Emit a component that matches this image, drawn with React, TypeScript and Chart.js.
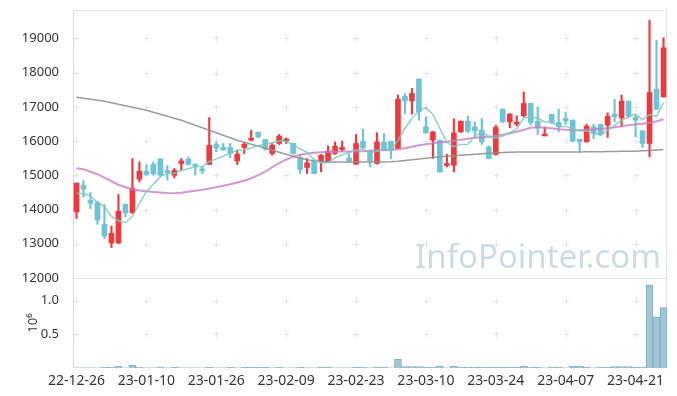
import React, { useEffect, useRef } from 'react';
import { Chart, registerables } from 'chart.js';

Chart.register(...registerables);

const dates = [
  '22-12-26', '22-12-27', '22-12-28', '22-12-29', '23-01-02', '23-01-03', '23-01-04', '23-01-05', '23-01-06', '23-01-09',
  '23-01-10', '23-01-11', '23-01-12', '23-01-13', '23-01-16', '23-01-17', '23-01-18', '23-01-19', '23-01-20', '23-01-25',
  '23-01-26', '23-01-27', '23-01-30', '23-01-31', '23-02-01', '23-02-02', '23-02-03', '23-02-06', '23-02-07', '23-02-08',
  '23-02-09', '23-02-10', '23-02-13', '23-02-14', '23-02-15', '23-02-16', '23-02-17', '23-02-20', '23-02-21', '23-02-22',
  '23-02-23', '23-02-24', '23-02-27', '23-02-28', '23-03-02', '23-03-03', '23-03-06', '23-03-07', '23-03-08', '23-03-09',
  '23-03-10', '23-03-13', '23-03-14', '23-03-15', '23-03-16', '23-03-17', '23-03-20', '23-03-21', '23-03-22', '23-03-23',
  '23-03-24', '23-03-27', '23-03-28', '23-03-29', '23-03-30', '23-03-31', '23-04-03', '23-04-04', '23-04-05', '23-04-06',
  '23-04-07', '23-04-10', '23-04-11', '23-04-12', '23-04-13', '23-04-14', '23-04-17', '23-04-18', '23-04-19', '23-04-20',
  '23-04-21', '23-04-24', '23-04-25', '23-04-26', '23-04-27',
];

const opens = [
  13930, 14710, 14270, 14205, 13570, 13023, 13023, 14155, 13912, 14886,
  15120, 15316, 15480, 15110, 15003, 15345, 15471, 15300, 15160, 15316,
  15900, 15822, 15813, 15421, 15813, 16026, 16260, 16047, 15637, 15930,
  16006, 15930, 15520, 15228, 15442, 15392, 15392, 15637, 15754, 15509,
  15325, 15997, 15705, 15345, 15977, 15997, 15784, 17313, 17175, 17810,
  16415, 16026, 16026, 15286, 15295, 16270, 16582, 16415, 16319, 15830,
  15608, 16933, 16561, 16494, 16737, 17100, 16582, 16152, 16778, 16544,
  16661, 16611, 16056, 15977, 16415, 16485, 16465, 16786, 16679, 17167,
  16700, 16298, 15930, 17518, 17292,
];

const highs = [
  14780, 14848, 14497, 14243, 14146, 13512, 14439, 14160, 15491, 15392,
  15316, 15392, 15490, 15290, 15199, 15491, 15538, 15316, 15266, 16690,
  15977, 15930, 15930, 15734, 15947, 16319, 16265, 16050, 15930, 16193,
  16094, 15940, 15608, 15491, 15450, 15608, 15860, 15977, 15997, 15637,
  16193, 16348, 15734, 16240, 16222, 16000, 17342, 17392, 17538, 17815,
  16708, 16280, 16030, 15617, 16649, 16590, 16728, 16561, 16661, 15860,
  16465, 16940, 16807, 16737, 17438, 17110, 17000, 16415, 16790, 16933,
  16836, 16620, 16060, 16494, 16485, 16490, 16825, 17225, 17342, 17170,
  16757, 16300, 19535, 18950, 19018,
];

const lows = [
  13737, 14368, 14029, 13570, 13152, 12889, 13006, 13784, 13883, 14807,
  15003, 15003, 14990, 14860, 14924, 15149, 15300, 15003, 15053, 15316,
  15684, 15725, 15509, 15316, 15637, 16006, 16100, 15734, 15588, 15900,
  15930, 15620, 15053, 15053, 15040, 15100, 15374, 15608, 15705, 15392,
  15316, 15784, 15246, 15325, 15734, 15491, 15763, 16807, 16787, 16611,
  16230, 15491, 15090, 15246, 15100, 16250, 16252, 16123, 15900, 15480,
  15588, 16543, 16386, 16445, 16708, 16465, 16193, 16150, 16515, 16270,
  16485, 15980, 15667, 15970, 16076, 16172, 16105, 16561, 16415, 16700,
  16123, 15813, 15538, 16920, 17280,
];

const closes = [
  14770, 14595, 14185, 13696, 13228, 13307, 13950, 13900, 14623, 15120,
  15023, 15041, 15003, 15080, 15149, 15421, 15316, 15270, 15130, 15880,
  15800, 15743, 15637, 15617, 15909, 16085, 16123, 15772, 15880, 16143,
  16047, 15637, 15170, 15363, 15053, 15588, 15705, 15851, 15800, 15412,
  15930, 15800, 15412, 15977, 15763, 15734, 17225, 17175, 17392, 16854,
  16240, 16270, 15100, 15325, 16240, 16582, 16290, 16298, 15977, 15491,
  16398, 16561, 16786, 16543, 17100, 16544, 16386, 16211, 16544, 16415,
  16591, 16000, 15977, 16436, 16222, 16202, 16728, 16708, 17167, 16728,
  16610, 15930, 17421, 16933, 18725,
];

const volumes = [
  3000, 3000, 3000, 3000, 10000, 10000, 25000, 3000, 40000, 15000,
  2000, 2000, 12000, 2000, 12000, 2000, 2000, 2000, 2000, 10000,
  2000, 2000, 10000, 2000, 12000, 12000, 12000, 12000, 2000, 10000,
  2000, 2000, 10000, 2000, 2000, 12000, 12000, 2000, 2000, 2000,
  12000, 12000, 2000, 12000, 12000, 2000, 133000, 20000, 20000, 20000,
  12000, 12000, 25000, 3000, 25000, 12000, 12000, 12000, 12000, 12000,
  12000, 12000, 12000, 12000, 25000, 12000, 12000, 3000, 12000, 12000,
  3000, 25000, 25000, 12000, 3000, 12000, 12000, 22000, 22000, 22000,
  12000, 12000, 1234000, 755000, 898000,
];

const ma5 = [
  14468, 14468, 14398, 14205, 14095, 13802, 13673, 13616, 13802, 14180,
  14523, 14741, 14962, 15053, 15059, 15139, 15194, 15247, 15257, 15403,
  15479, 15565, 15638, 15735, 15741, 15798, 15874, 15901, 15954, 16001,
  15993, 15896, 15775, 15672, 15454, 15362, 15376, 15512, 15599, 15671,
  15740, 15759, 15671, 15706, 15776, 15737, 16022, 16375, 16658, 16876,
  16977, 16786, 16371, 15958, 15835, 15903, 15907, 16147, 16277, 16128,
  16091, 16145, 16243, 16356, 16678, 16707, 16672, 16557, 16557, 16420,
  16429, 16352, 16305, 16284, 16245, 16167, 16313, 16459, 16605, 16707,
  16788, 16629, 16771, 16724, 17124,
];

const ma20 = [
  15208, 15178, 15105, 15032, 14930, 14827, 14725, 14652, 14594, 14556,
  14535, 14515, 14497, 14482, 14477, 14491, 14520, 14550, 14579, 14614,
  14652, 14696, 14740, 14789, 14842, 14915, 15003, 15105, 15237, 15354,
  15456, 15544, 15602, 15637, 15661, 15675, 15681, 15687, 15693, 15696,
  15699, 15705, 15719, 15734, 15734, 15749, 15763, 15792, 15836, 15880,
  15909, 15939, 15968, 15982, 16012, 16041, 16070, 16099, 16114, 16129,
  16158, 16187, 16231, 16275, 16333, 16392, 16406, 16392, 16377, 16348,
  16333, 16319, 16319, 16333, 16348, 16363, 16377, 16406, 16436, 16465,
  16494, 16509, 16538, 16582, 16640,
];

const ma60 = [
  17284, 17254, 17225, 17196, 17167, 17123, 17079, 17035, 16991, 16947,
  16903, 16845, 16786, 16728, 16670, 16611, 16538, 16465, 16392, 16319,
  16246, 16173, 16099, 16026, 15968, 15909, 15851, 15792, 15734, 15675,
  15617, 15558, 15500, 15456, 15427, 15404, 15392, 15392, 15392, 15392,
  15392, 15392, 15392, 15392, 15392, 15398, 15412, 15433, 15456, 15480,
  15500, 15520, 15541, 15558, 15573, 15588, 15602, 15617, 15632, 15646,
  15655, 15664, 15673, 15678, 15684, 15684, 15684, 15684, 15684, 15684,
  15684, 15684, 15684, 15687, 15690, 15692, 15694, 15697, 15700, 15702,
  15705, 15716, 15728, 15743, 15757,
];

const priceTicks = [12000, 13000, 14000, 15000, 16000, 17000, 18000, 19000];
const volumeTicks = [500000, 1000000];

const UP = '#ee3a3e';
const DOWN = '#6ec3d7';
const FONT = '"Noto Sans", "DejaVu Sans", sans-serif';

const zeroPad = (s: any) => {
  s.paddingTop = 0;
  s.paddingBottom = 0;
  s.paddingLeft = 0;
  s.paddingRight = 0;
};

export default function App() {
  const ref = useRef<HTMLCanvasElement>(null);

  useEffect(() => {
    if (!ref.current) return;
    const colors = closes.map((c, i) => (c >= opens[i] ? UP : DOWN));

    const decor = {
      id: 'decor',
      beforeDatasetsDraw(chart: any) {
        const { ctx, chartArea } = chart;
        const xs = chart.scales.x;
        const ys = chart.scales.y;
        const vs = chart.scales.vol;
        ctx.save();
        // watermark
        ctx.font = `30px ${FONT}`;
        const w = ctx.measureText('InfoPointer.com').width;
        const size = (30 * 246) / w;
        ctx.font = `${size}px ${FONT}`;
        ctx.fillStyle = 'rgba(194,214,225,0.85)';
        ctx.textAlign = 'right';
        ctx.textBaseline = 'alphabetic';
        ctx.fillText('InfoPointer.com', chartArea.right - 6, 268);

        // cross grid marks
        ctx.strokeStyle = '#e4e4e4';
        ctx.lineWidth = 1;
        const colX: number[] = xs.ticks.map((_t: any, i: number) => xs.getPixelForTick(i));
        const rowY: number[] = [];
        priceTicks.forEach((v) => {
          if (v > 12000) rowY.push(ys.getPixelForValue(v));
        });
        volumeTicks.forEach((v) => rowY.push(vs.getPixelForValue(v)));
        ctx.beginPath();
        colX.forEach((px) => {
          const cx = Math.round(px) + 0.5;
          rowY.forEach((py) => {
            const cy = Math.round(py) + 0.5;
            ctx.moveTo(cx - 3, cy);
            ctx.lineTo(cx + 3, cy);
            ctx.moveTo(cx, cy - 3);
            ctx.lineTo(cx, cy + 3);
          });
        });
        ctx.stroke();

        // frame
        ctx.strokeStyle = '#e2e2e2';
        ctx.beginPath();
        const l = Math.round(chartArea.left) + 0.5;
        const r = Math.round(chartArea.right) - 0.5;
        const t = Math.round(chartArea.top) + 0.5;
        const sep = Math.round(ys.getPixelForValue(12000)) + 0.5;
        ctx.moveTo(l, t);
        ctx.lineTo(r, t);
        ctx.moveTo(r, t);
        ctx.lineTo(r, chartArea.bottom);
        ctx.moveTo(l, sep);
        ctx.lineTo(r, sep);
        ctx.stroke();
        ctx.strokeStyle = '#d8d8d8';
        ctx.beginPath();
        ctx.moveTo(l, t);
        ctx.lineTo(l, chartArea.bottom);
        ctx.stroke();
        ctx.restore();
      },
      afterDraw(chart: any) {
        const { ctx } = chart;
        const vs = chart.scales.vol;
        ctx.save();
        ctx.translate(33, (vs.top + vs.bottom) / 2);
        ctx.rotate(-Math.PI / 2);
        ctx.font = `13px ${FONT}`;
        ctx.fillStyle = '#333';
        ctx.textAlign = 'center';
        ctx.textBaseline = 'middle';
        ctx.fillText('10⁶', 0, 0);
        ctx.restore();
      },
    };

    const chart = new Chart(ref.current, {
      type: 'bar',
      data: {
        labels: dates,
        datasets: [
          {
            type: 'line',
            label: 'MA5',
            data: ma5,
            yAxisID: 'y',
            borderColor: 'rgba(125,200,190,0.85)',
            borderWidth: 1.5,
            pointRadius: 0,
            tension: 0,
            order: 0,
          } as any,
          {
            type: 'line',
            label: 'MA20',
            data: ma20,
            yAxisID: 'y',
            borderColor: 'rgba(198,128,196,0.8)',
            borderWidth: 2,
            pointRadius: 0,
            tension: 0,
            order: 0,
          },
          {
            type: 'line',
            label: 'MA60',
            data: ma60,
            yAxisID: 'y',
            borderColor: 'rgba(145,145,145,0.9)',
            borderWidth: 1.5,
            pointRadius: 0,
            tension: 0,
            order: 0,
          },
          {
            type: 'bar',
            label: 'body',
            data: opens.map((o, i) => [o, closes[i]]),
            yAxisID: 'y',
            backgroundColor: colors,
            barThickness: 5,
            minBarLength: 2,
            grouped: false,
            order: 1,
          } as any,
          {
            type: 'bar',
            label: 'wick',
            data: lows.map((lo, i) => [lo, highs[i]]),
            yAxisID: 'y',
            backgroundColor: colors,
            barThickness: 1.5,
            grouped: false,
            order: 2,
          } as any,
          {
            type: 'bar',
            label: 'volume',
            data: volumes,
            yAxisID: 'vol',
            backgroundColor: '#a3c6d4',
            borderColor: '#84acbd',
            borderWidth: 1,
            barPercentage: 1,
            categoryPercentage: 1,
            grouped: false,
            order: 3,
          } as any,
        ],
      },
      options: {
        responsive: false,
        maintainAspectRatio: false,
        animation: false,
        layout: { padding: { left: 0, right: 10, top: 10, bottom: 0 } },
        plugins: { legend: { display: false }, tooltip: { enabled: false } },
        scales: {
          x: {
            type: 'category',
            offset: true,
            grid: { display: false },
            border: { display: false },
            ticks: {
              autoSkip: false,
              maxRotation: 0,
              padding: -3,
              color: '#333',
              font: { family: FONT, size: 14 },
            },
            afterBuildTicks: (s: any) => {
              s.ticks = s.ticks.filter((t: any) => t.value % 10 === 0);
            },
            afterFit: (s: any) => {
              s.height = 28;
              zeroPad(s);
            },
          },
          y: {
            position: 'left',
            stack: 'main',
            stackWeight: 268,
            weight: 2,
            min: 12000,
            max: 19830,
            grid: { display: false },
            border: { display: false },
            ticks: {
              stepSize: 1000,
              includeBounds: false,
              padding: 6,
              color: '#333',
              font: { family: FONT, size: 13 },
              callback: (v: any) => String(v),
            },
            afterBuildTicks: (s: any) => {
              s.ticks = priceTicks.map((v) => ({ value: v }));
            },
            afterFit: (s: any) => {
              s.width = 73;
              zeroPad(s);
            },
          },
          vol: {
            type: 'linear',
            position: 'left',
            stack: 'main',
            stackWeight: 90,
            weight: 1,
            min: 0,
            max: 1336000,
            grid: { display: false },
            border: { display: false },
            ticks: {
              padding: 6,
              color: '#333',
              font: { family: FONT, size: 13 },
              callback: (v: any) => (Number(v) / 1e6).toFixed(1),
            },
            afterBuildTicks: (s: any) => {
              s.ticks = volumeTicks.map((v) => ({ value: v }));
            },
            afterFit: (s: any) => {
              s.width = 73;
              zeroPad(s);
            },
          },
        },
      } as any,
      plugins: [decor],
    });
    return () => chart.destroy();
  }, []);

  return (
    <div style={{ position: 'fixed', left: 0, top: 0, width: 677, height: 396, background: '#fff' }}>
      <canvas ref={ref} width={677} height={396} style={{ display: 'block', width: 677, height: 396 }} />
    </div>
  );
}
